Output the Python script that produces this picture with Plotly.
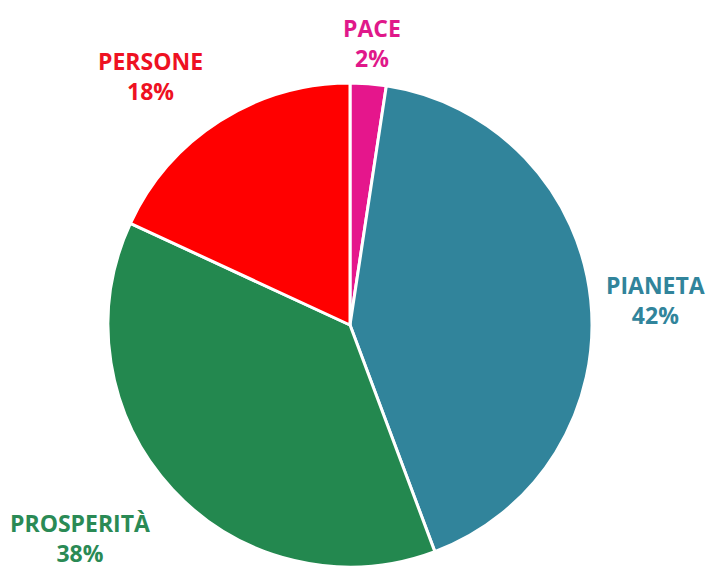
import plotly.graph_objects as go

labels = ["PACE", "PIANETA", "PROSPERITÀ", "PERSONE"]
values = [2.4, 41.9, 37.6, 18.1]
slice_colors = ["#E5168C", "#31849B", "#23884F", "#FF0000"]
text_colors = ["#E0188A", "#31849B", "#2A8A55", "#EE1122"]

OFF = 8  # page body margin
W, H = 716 - OFF, 568 - OFF
cx, cy, r = 350 - OFF, 325 - OFF, 242

fig = go.Figure(go.Pie(
    labels=labels,
    values=values,
    sort=False,
    direction="clockwise",
    rotation=0,
    textinfo="none",
    hoverinfo="label+percent",
    marker=dict(colors=slice_colors, line=dict(color="white", width=3)),
    domain=dict(x=[(cx - r) / W, (cx + r) / W], y=[max(0, (H - cy - r) / H), (H - cy + r) / H]),
    showlegend=False,
))

total = sum(values)
label_pos = {"PACE": (372, 43), "PIANETA": (655, 300), "PROSPERITÀ": (80, 538), "PERSONE": (150, 76)}
for lab, v, c in zip(labels, values, text_colors):
    px, py = label_pos[lab]
    fig.add_annotation(
        x=(px - OFF) / W, y=1 - (py - OFF) / H, xref="paper", yref="paper",
        xanchor="center", yanchor="middle",
        text=f"<b>{lab}</b><br><b>{round(100 * v / total)}%</b>",
        showarrow=False, align="center",
        font=dict(family="Open Sans", size=23, color=c),
    )

fig.update_layout(
    width=W, height=H,
    margin=dict(l=0, r=0, t=0, b=0),
    paper_bgcolor="white", plot_bgcolor="white",
)

fig.write_html("out.html")
